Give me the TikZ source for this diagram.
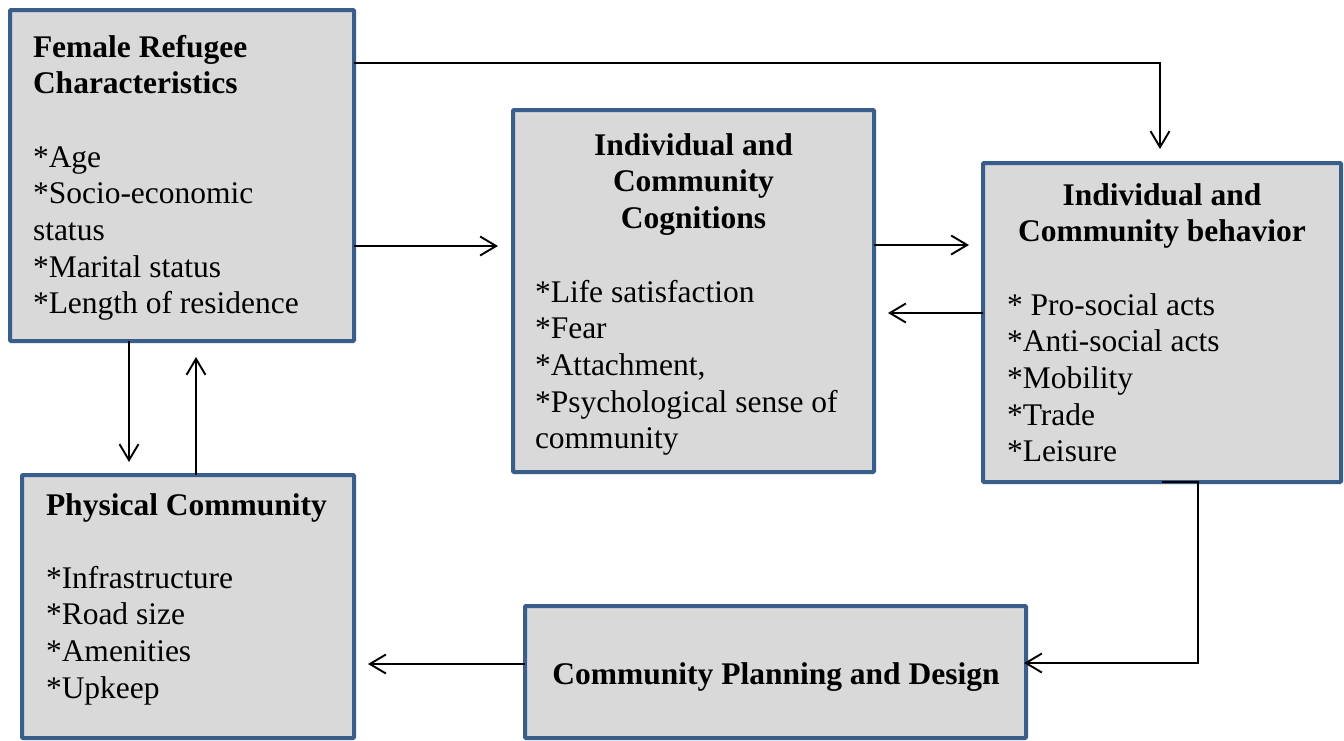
\documentclass[tikz,border=0pt]{standalone}
\usepackage{fontspec}
\setmainfont{Liberation Serif}
\usetikzlibrary{arrows.meta,calc}
\definecolor{boxline}{RGB}{58,94,140}
\definecolor{boxfill}{RGB}{217,217,217}
\tikzset{
  box/.style={draw=boxline, fill=boxfill, line width=4pt, rounded corners=1pt,
    inner sep=0pt, outer sep=0pt, anchor=north west},
  txt/.style={inner sep=0pt, outer sep=0pt, text=black},
  conn/.style={line width=1.9pt, draw=black,
    -{Straight Barb[length=16pt,width=19pt,line width=1.9pt]}},
}
\newcommand{\bodyfont}{\fontsize{31.5}{36.7}\selectfont}
\newcommand{\nl}{\\{}}
\begin{document}
\begin{tikzpicture}[x=1pt,y=-1pt]
\useasboundingbox (0,0) rectangle (1344,740);
\fill[white] (0,0) rectangle (1344,740);
% boxes
\node[box, minimum width=344pt, minimum height=331pt] (b1) at (10,10) {};
\node[box, minimum width=361pt, minimum height=362pt] (b2) at (513,110) {};
\node[box, minimum width=358pt, minimum height=319pt] (b3) at (983,163) {};
\node[box, minimum width=332pt, minimum height=263pt] (b4) at (22,475) {};
\node[box, minimum width=501pt, minimum height=132pt] (b5) at (525,606) {};
% texts
\node[txt, anchor=base west] (t1) at (33,57) {\parbox[t]{320pt}{\raggedright\bodyfont
  \textbf{Female Refugee}\nl
  \textbf{Characteristics}\nl
  \mbox{}\nl
  *Age\nl
  *Socio-economic\nl
  status\nl
  *Marital status\nl
  *Length of residence}};
\node[txt, anchor=base] (h2) at (693.5,155) {\parbox[t]{340pt}{\centering\bodyfont\bfseries
  Individual and\nl
  Community\nl
  Cognitions}};
\node[txt, anchor=base west] (t2) at (535,302) {\parbox[t]{335pt}{\raggedright\bodyfont
  *Life satisfaction\nl
  *Fear\nl
  *Attachment,\nl
  *Psychological sense of\nl
  community}};
\node[txt, anchor=base] (h3) at (1162,205) {\parbox[t]{340pt}{\centering\bodyfont\bfseries
  Individual and\nl
  Community behavior}};
\node[txt, anchor=base west] (t3) at (1007,315) {\parbox[t]{330pt}{\raggedright\bodyfont
  * Pro-social acts\nl
  *Anti-social acts\nl
  *Mobility\nl
  *Trade\nl
  *Leisure}};
\node[txt, anchor=base west] (h4) at (46,515) {\bodyfont\bfseries Physical Community};
\node[txt, anchor=base west] (t4) at (46,588) {\parbox[t]{300pt}{\raggedright\bodyfont
  *Infrastructure\nl
  *Road size\nl
  *Amenities\nl
  *Upkeep}};
\node[txt, anchor=base] (h5) at (776,684) {\bodyfont\bfseries Community Planning and Design};
% connectors
\draw[conn, shorten >=14pt] ([yshift=-53pt]b1.north east) -| ([xshift=-2pt]b3.north);
\draw[conn, shorten >=15pt] ([yshift=-236pt]b1.north east) coordinate (s12) -- (s12 -| b2.west);
\draw[conn, shorten >=14pt] ([yshift=-135pt]b2.north east) coordinate (s23) -- (s23 -| b3.west);
\draw[conn, shorten >=14pt] ([yshift=-150pt]b3.north west) coordinate (s32) -- (s32 -| b2.east);
\draw[conn, shorten >=13pt] ([xshift=119pt]b1.south west) coordinate (s14) -- (s14 |- b4.north);
\draw[conn, shorten >=16pt] ([xshift=174pt]b4.north west) coordinate (s41) -- (s41 |- b1.south);
\draw[conn, shorten >=-2pt] (b3.south) -- ++(36,0) |- ([yshift=-57pt]b5.north east);
\draw[conn, shorten >=14pt] ([yshift=-58pt]b5.north west) coordinate (s54) -- (s54 -| b4.east);
\end{tikzpicture}
\end{document}
